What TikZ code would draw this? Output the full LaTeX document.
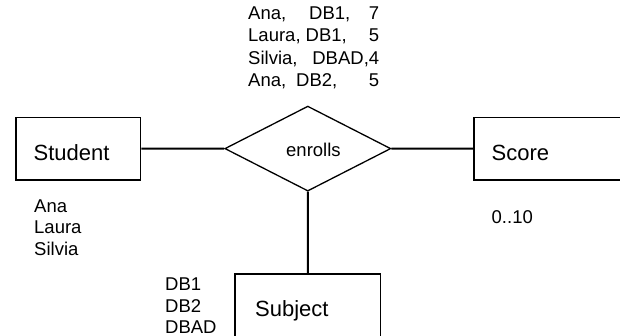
\documentclass[tikz,border=0pt]{standalone}
\usepackage{fontspec}
\setmainfont{Liberation Sans}
\usetikzlibrary{shapes.geometric}
\tikzset{
  entbox/.style={draw, line width=1.3pt, rectangle, inner sep=0pt},
  relbox/.style={draw, line width=1.3pt, diamond, inner sep=0pt, minimum width=166pt, minimum height=85pt},
  conn/.style={line width=1.9pt},
  bigtxt/.style={font=\fontsize{22}{26}\selectfont, inner sep=0pt, anchor=base west},
  midtxt/.style={font=\fontsize{18.5}{22}\selectfont, inner sep=0pt, anchor=base west},
  smalltxt/.style={font=\fontsize{18.5}{22}\selectfont, inner sep=0pt, anchor=base west},
}
\begin{document}
\begin{tikzpicture}[x=1pt, y=-1pt]
\useasboundingbox (0,0) rectangle (620,336);
\clip (0,0) rectangle (620,336);
\fill[white] (0,0) rectangle (620,336);
% entities and relationship
\node[entbox, minimum width=124.7pt, minimum height=62.7pt] (student) at (78.35,148.65) {};
\node[entbox, minimum width=186pt, minimum height=62.7pt] (score) at (567,148.65) {};
\node[entbox, minimum width=145.7pt, minimum height=86pt] (subject) at (307.85,317) {};
\node[relbox] (enrolls) at (307.8,148.6) {};
% labels
\node[bigtxt] (studentlbl) at (33.5,160.3) {Student};
\node[bigtxt] (scorelbl) at (491.5,160.3) {Score};
\node[bigtxt] (subjectlbl) at (255,316) {Subject};
\node[midtxt] (enrollslbl) at (286,156.5) {enrolls};
% connectors
\draw[conn] (student.east) -- (enrolls.west);
\draw[conn] (enrolls.east) -- (score.west);
\draw[conn] (enrolls.south) -- (subject.north);
% tuples of enrolls
\node[smalltxt] (t1) at (248,20) {\hbox to 131pt{\makebox[61pt][l]{Ana,}DB1,\hfill 7}};
\node[smalltxt] (t2) at (248,42) {\hbox to 131pt{\makebox[57.5pt][l]{Laura,}DB1,\hfill 5}};
\node[smalltxt] (t3) at (248,64.5) {\hbox to 131pt{\makebox[59pt][l]{Silvia,}\hfill DBAD,4}};
\node[smalltxt] (t4) at (248,86.8) {\hbox to 131pt{\makebox[48pt][l]{Ana,}DB2,\hfill 5}};
% student values
\node[smalltxt] (s1) at (34,212.2) {Ana};
\node[smalltxt] (s2) at (34,233.6) {Laura};
\node[smalltxt] (s3) at (34,255) {Silvia};
% score values
\node[smalltxt] (v1) at (491.5,224) {0..10};
% subject values
\node[smalltxt] (d1) at (165,290.5) {DB1};
\node[smalltxt] (d2) at (165,312) {DB2};
\node[smalltxt] (d3) at (165,333) {DBAD};
\end{tikzpicture}
\end{document}
